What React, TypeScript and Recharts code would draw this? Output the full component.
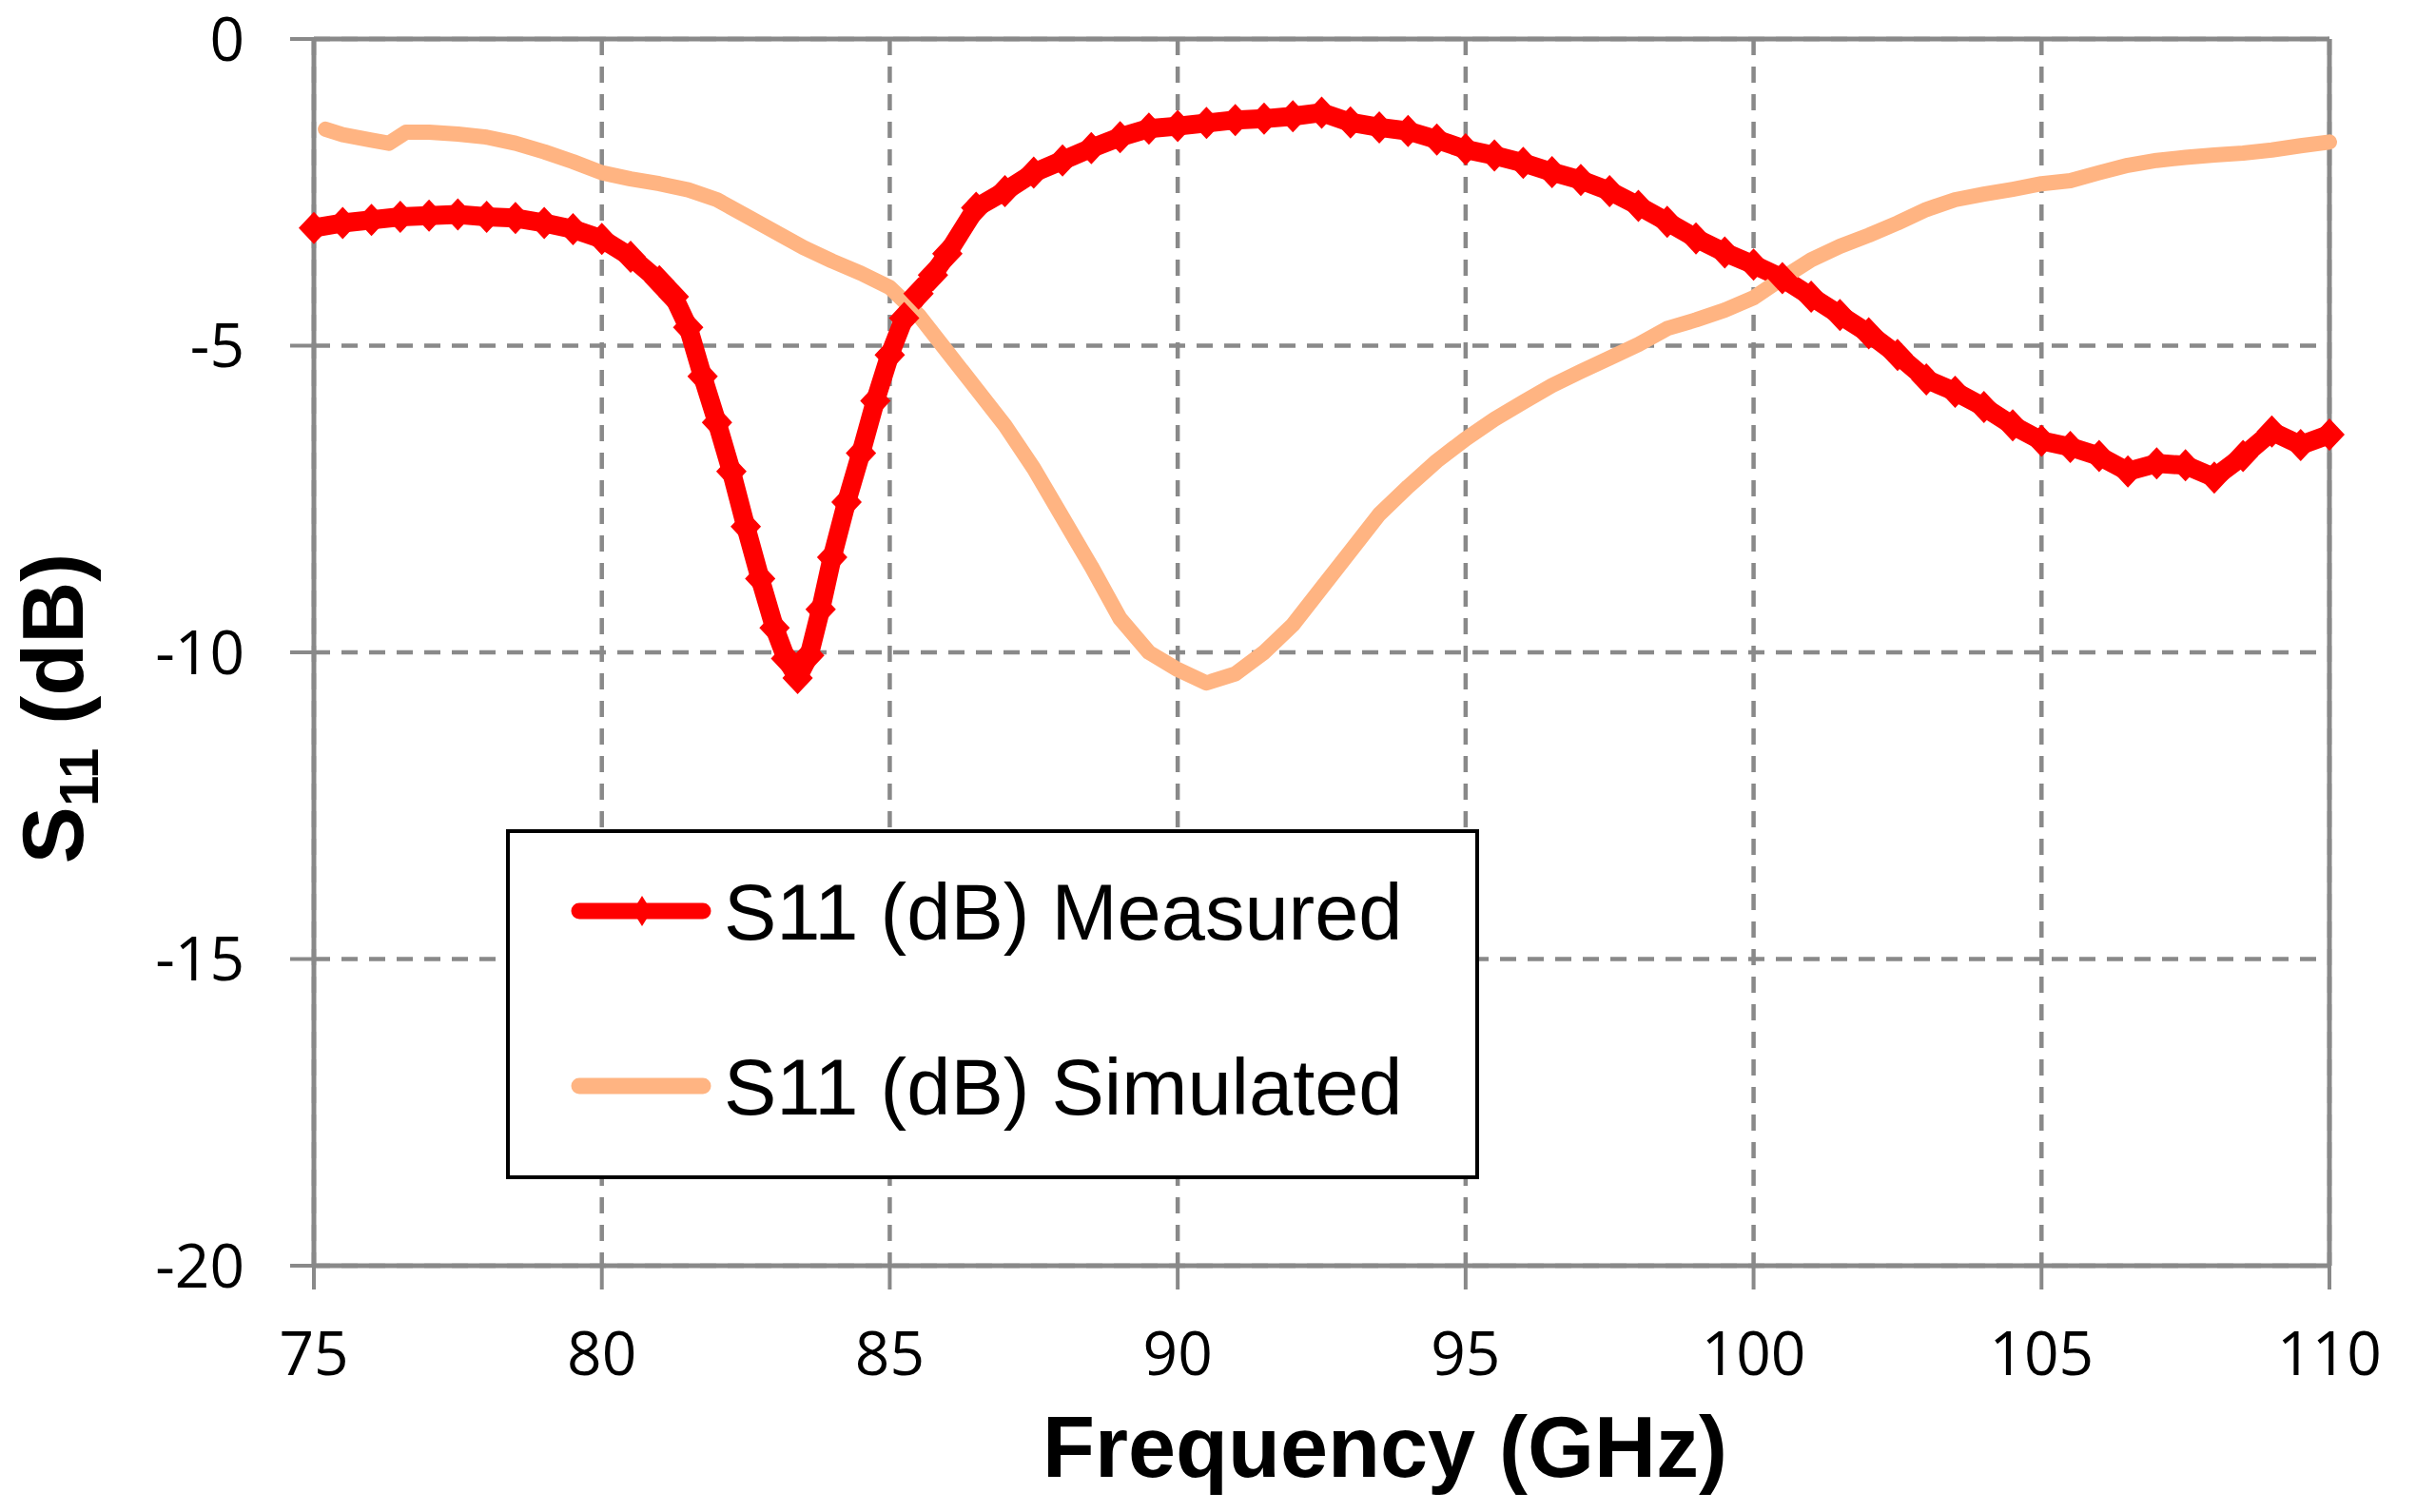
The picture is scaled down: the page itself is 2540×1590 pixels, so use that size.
import { LineChart, Line, XAxis, YAxis, CartesianGrid, ReferenceLine } from 'recharts'

// Measured S11
const measFreq = [
  75, 75.5, 76, 76.5, 77, 77.5, 78, 78.5, 79, 79.5, 80, 80.5, 81, 81.25, 81.5, 81.75,
  82, 82.25, 82.5, 82.75, 83, 83.2, 83.4, 83.6, 83.8, 84, 84.25, 84.5, 84.75, 85, 85.25,
  85.5, 85.75, 86, 86.5, 87, 87.5, 88, 88.5, 89, 89.5, 90, 90.5, 91, 91.5, 92, 92.5, 93,
  93.5, 94, 94.5, 95, 95.5, 96, 96.5, 97, 97.5, 98, 98.5, 99, 99.5, 100, 100.5, 101, 101.5,
  102, 102.5, 103, 103.5, 104, 104.5, 105, 105.5, 106, 106.5, 107, 107.5, 108, 108.5, 109,
  109.5, 110,
]
const measDb = [
  -3.08, -3.0, -2.95, -2.9, -2.88, -2.86, -2.9, -2.92, -3.0, -3.1, -3.26, -3.55, -3.95, -4.2, -4.7, -5.5,
  -6.25, -7.05, -7.95, -8.8, -9.6, -10.1, -10.42, -10.05, -9.3, -8.45, -7.55, -6.75, -5.9, -5.15, -4.55,
  -4.15, -3.85, -3.5, -2.75, -2.48, -2.18, -1.98, -1.78, -1.6, -1.46, -1.42, -1.37, -1.32, -1.3, -1.26, -1.2, -1.36,
  -1.44, -1.5, -1.64, -1.8, -1.9, -2.02, -2.17, -2.3, -2.48, -2.72, -2.98, -3.25, -3.48, -3.68, -3.9, -4.2, -4.5,
  -4.8, -5.15, -5.55, -5.75, -6.0, -6.3, -6.55, -6.65, -6.8, -7.05, -6.92, -6.95, -7.15, -6.8, -6.4,
  -6.62, -6.45,
]

// Simulated S11
const simFreq = [
  75.2, 75.5, 76, 76.3, 76.6, 77, 77.5, 78, 78.5, 79, 79.5, 80, 80.5, 81, 81.5, 82, 82.5, 83,
  83.5, 84, 84.5, 85, 85.5, 86, 86.5, 87, 87.5, 88, 88.5, 89, 89.5, 90, 90.5, 91, 91.5, 92,
  92.5, 93, 93.5, 94, 94.5, 95, 95.5, 96, 96.5, 97, 97.5, 98, 98.5, 99, 99.5, 100, 100.5,
  101, 101.5, 102, 102.5, 103, 103.5, 104, 104.5, 105, 105.5, 106, 106.5, 107, 107.5, 108,
  108.5, 109, 109.5, 110,
]
const simDb = [
  -1.47, -1.56, -1.65, -1.7, -1.52, -1.52, -1.55, -1.6, -1.7, -1.84, -2.0, -2.18, -2.28, -2.36, -2.46, -2.62, -2.88, -3.14,
  -3.4, -3.62, -3.82, -4.05, -4.5, -5.1, -5.7, -6.3, -7.0, -7.8, -8.6, -9.45, -10.0, -10.28, -10.5, -10.35, -10.0, -9.55,
  -8.95, -8.35, -7.75, -7.3, -6.88, -6.52, -6.2, -5.92, -5.65, -5.42, -5.2, -4.98, -4.72, -4.58, -4.42, -4.22, -3.9,
  -3.6, -3.38, -3.2, -3.0, -2.78, -2.62, -2.53, -2.45, -2.36, -2.31, -2.18, -2.06, -1.98, -1.93, -1.89,
  -1.86, -1.81, -1.74, -1.68,
]

const xTicks = [75, 80, 85, 90, 95, 100, 105, 110]
const yTicks = [-20, -15, -10, -5, 0]

const measured = measFreq.map((f, i) => ({ f, v: measDb[i] }))
const simulated = simFreq.map((f, i) => ({ f, v: simDb[i] }))

const GRAY = '#898989'
const RED = '#ff0000'
const PEACH = '#ffb482'
const tickFont = { fontSize: 64, fill: '#000', fontFamily: '"Open Sans", sans-serif' }

function Diamond(props: any) {
  const { cx, cy } = props
  if (cx == null || cy == null) return null
  return <path d={`M${cx},${cy - 17} L${cx + 16},${cy} L${cx},${cy + 17} L${cx - 16},${cy} Z`} fill={RED} />
}

function XTitle() {
  return (
    <text x={1456} y={1553} textAnchor="middle" fontSize={90} fontWeight="bold"
      fontFamily='"Liberation Sans", Arial, sans-serif' fill="#000">
      Frequency (GHz)
    </text>
  )
}

function YTitle() {
  return (
    <text x={87} y={745} transform="rotate(-90 87 745)" textAnchor="middle" fontSize={90} fontWeight="bold"
      fontFamily='"Liberation Sans", Arial, sans-serif' fill="#000">
      S<tspan fontSize={58} dy={16}>11</tspan><tspan dy={-16}> (dB)</tspan>
    </text>
  )
}

function LegendBox() {
  const font = '"Liberation Sans", Arial, sans-serif'
  return (
    <svg width={1023} height={368} style={{ position: 'absolute', left: 532, top: 872 }}>
      <rect x={2} y={2} width={1019} height={364} fill="#fff" stroke="#000" strokeWidth={4} />
      <line x1={77} y1={86} x2={207} y2={86} stroke={RED} strokeWidth={17} strokeLinecap="round" />
      <path d="M143,70 L153,86 L143,102 L133,86 Z" fill={RED} />
      <text x={229} y={116} fontSize={83} fontFamily={font} fill="#000">S11 (dB) Measured</text>
      <line x1={77} y1={270} x2={207} y2={270} stroke={PEACH} strokeWidth={17} strokeLinecap="round" />
      <text x={229} y={300} fontSize={83} fontFamily={font} fill="#000">S11 (dB) Simulated</text>
    </svg>
  )
}

export default function App() {
  return (
    <div style={{ position: 'absolute', left: 0, top: 0, width: 2540, height: 1590, background: '#fff' }}>
      <LineChart width={2540} height={1590} margin={{ top: 41, right: 91, bottom: 139, left: 210 }}>
        <CartesianGrid stroke={GRAY} strokeWidth={4.5} strokeDasharray="17 12" />
        <XAxis
          type="number" dataKey="f" domain={[75, 110]} ticks={xTicks} allowDuplicatedCategory={false}
          height={120} tickSize={25} tickMargin={45} tick={tickFont}
          axisLine={{ stroke: GRAY, strokeWidth: 5 }} tickLine={{ stroke: GRAY, strokeWidth: 4 }}
          label={{ content: XTitle }}
        />
        <YAxis
          type="number" domain={[-20, 0]} ticks={yTicks} width={120} tickSize={25} tickMargin={48} tick={tickFont}
          axisLine={{ stroke: GRAY, strokeWidth: 5 }} tickLine={{ stroke: GRAY, strokeWidth: 4 }}
          label={{ content: YTitle }}
        />
        <ReferenceLine y={0} stroke={GRAY} strokeWidth={5} />
        <ReferenceLine x={110} stroke={GRAY} strokeWidth={5} />
        <Line data={measured} dataKey="v" type="linear" stroke={RED} strokeWidth={20} strokeLinejoin="round"
          dot={(p: any) => <Diamond key={`m-${p.index}`} {...p} />} activeDot={false} isAnimationActive={false} />
        <Line data={simulated} dataKey="v" type="linear" stroke={PEACH} strokeWidth={16} strokeLinecap="round"
          strokeLinejoin="round" dot={false} activeDot={false} isAnimationActive={false} />
      </LineChart>
      <LegendBox />
    </div>
  )
}
